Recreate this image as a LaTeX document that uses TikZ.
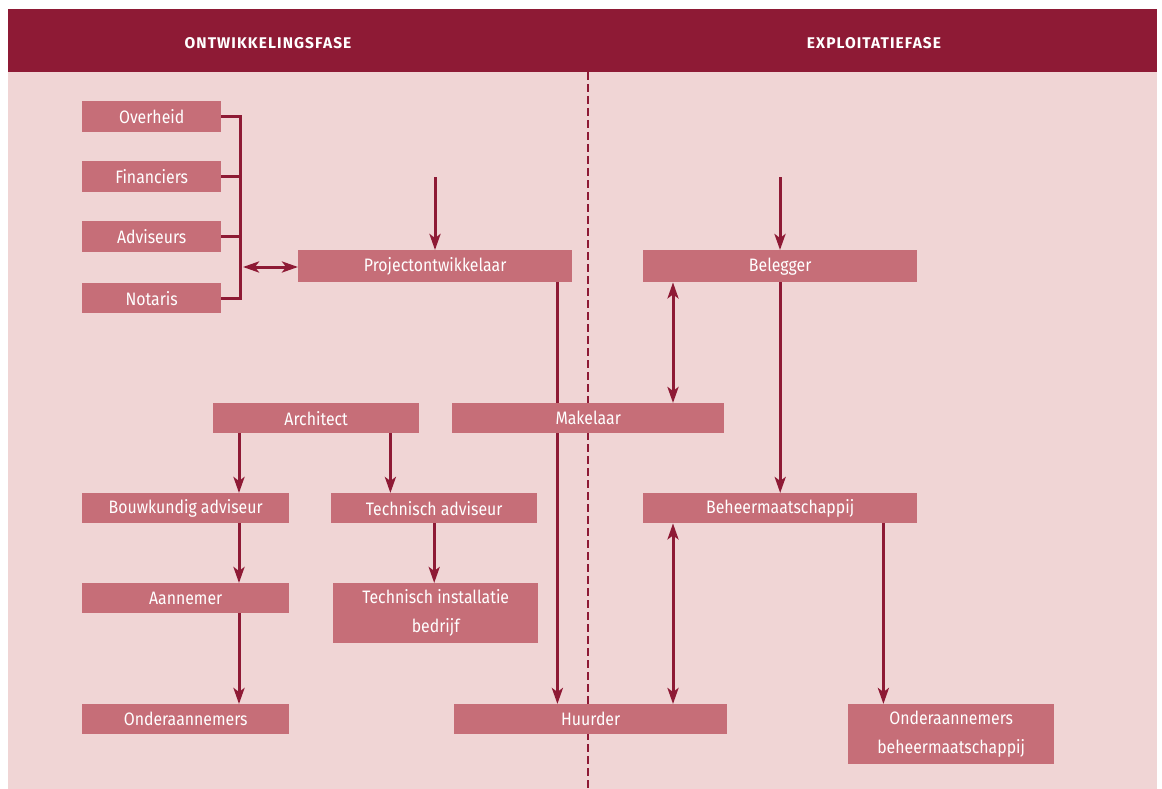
\documentclass[tikz,border=0pt]{standalone}
\usepackage{fontspec}
\setmainfont{Fira Sans}[FakeStretch=0.88]
\newfontfamily\phasefont{Fira Sans}[LetterSpace=7]
\usetikzlibrary{arrows.meta}
\definecolor{wine}{HTML}{8E1A35}
\definecolor{blush}{HTML}{F0D5D5}
\definecolor{rosebox}{HTML}{C66E78}
\pgfdeclarelayer{backdrop}
\pgfdeclarelayer{links}
\pgfsetlayers{backdrop,links,main}
\begin{document}
\begin{tikzpicture}[x=1pt,y=-1pt,
  box/.style={fill=rosebox, draw=none, text=white, anchor=north west,
    inner sep=0pt, align=center, font=\fontsize{18}{29}\selectfont},
  phase/.style={text=white, font=\phasefont\bfseries\fontsize{15.5}{17}\selectfont},
  link/.style={draw=wine, line width=3pt},
  tip/.tip={Stealth[length=16pt,width=11pt,inset=4pt]},
  arr/.style={link, -tip},
  darr/.style={link, tip-tip},
]
\useasboundingbox (0,0) rectangle (1162,789);

% backdrop and phase header
\begin{pgfonlayer}{backdrop}
\fill[blush] (8,72) rectangle (1157,789);
\fill[wine] (8,9) rectangle (1157,72);
% boundary between the two phases
\draw[link, line width=2.8pt, dash pattern=on 8pt off 4pt] (588,72) -- (588,789);
\end{pgfonlayer}
\node[phase] (hdev) at (268,43) {ONTWIKKELINGSFASE};
\node[phase] (hexp) at (874,43) {EXPLOITATIEFASE};

% parties
\node[box, minimum width=139pt, minimum height=31pt] (ov) at (82,101) {Overheid};
\node[box, minimum width=139pt, minimum height=31pt] (fi) at (82,161) {Financiers};
\node[box, minimum width=139pt, minimum height=31pt] (ad) at (82,221) {Adviseurs};
\node[box, minimum width=139pt, minimum height=30pt] (no) at (82,283) {Notaris};

\node[box, minimum width=274pt, minimum height=32pt] (po) at (298,250) {Projectontwikkelaar};
\node[box, minimum width=274pt, minimum height=32pt] (be) at (643,250) {Belegger};

\node[box, minimum width=206pt, minimum height=30pt] (ar) at (213,403) {Architect};
\node[box, minimum width=272pt, minimum height=30pt] (ma) at (452,403) {Makelaar};

\node[box, minimum width=207pt, minimum height=30pt] (bk) at (82,493) {Bouwkundig adviseur};
\node[box, minimum width=206pt, minimum height=30pt] (ta) at (331,493) {Technisch adviseur};
\node[box, minimum width=274pt, minimum height=30pt] (bm) at (643,493) {Beheermaatschappij};

\node[box, minimum width=207pt, minimum height=30pt] (an) at (82,583) {Aannemer};
\node[box, minimum width=205pt, minimum height=60pt] (ti) at (333,583) {Technisch installatie\\bedrijf};

\node[box, minimum width=207pt, minimum height=30pt] (oa) at (82,704) {Onderaannemers};
\node[box, minimum width=273pt, minimum height=30pt] (hu) at (454,704) {Huurder};
\node[box, minimum width=206pt, minimum height=60pt] (ob) at (848,704) {Onderaannemers\\beheermaatschappij};

\begin{pgfonlayer}{links}
% bracket joining the four advisers
\coordinate (brk) at (240,0);
\coordinate (hub) at (243,267);
\draw[link] (ov.east) -- (ov.east -| brk) -- (no.east -| brk) -- (no.east);
\draw[link] (fi.east) -- (fi.east -| brk);
\draw[link] (ad.east) -- (ad.east -| brk);
\draw[darr] (hub) -- (hub -| po.west);

% incoming arrows from above
\coordinate (pin) at (435,177);
\coordinate (bin) at (780,177);
\draw[arr] (pin) -- (pin |- po.north);
\draw[arr] (bin) -- (bin |- be.north);

% project developer down to the tenant, passing behind the broker
\draw[arr] ([xshift=-15pt]po.south east) -- ([xshift=-15pt]po.south east |- hu.north);

% investor side
\draw[darr] ([xshift=30pt]be.south west) -- ([xshift=30pt]be.south west |- ma.north);
\draw[arr] (be.south) -- (be.south |- bm.north);
\draw[darr] ([xshift=30pt]bm.south west) -- ([xshift=30pt]bm.south west |- hu.north);
\draw[arr] ([xshift=-34pt]bm.south east) -- ([xshift=-34pt]bm.south east |- ob.north);

% architect branch
\draw[arr] ([xshift=26pt]ar.south west) -- ([xshift=26pt]ar.south west |- bk.north);
\draw[arr] ([xshift=-29pt]ar.south east) -- ([xshift=-29pt]ar.south east |- ta.north);
\draw[arr] ([xshift=26pt]ar.south west |- bk.south) -- ([xshift=26pt]ar.south west |- an.north);
\draw[arr] (ta.south) -- (ta.south |- ti.north);
\draw[arr] ([xshift=26pt]ar.south west |- an.south) -- ([xshift=26pt]ar.south west |- oa.north);
\end{pgfonlayer}
\end{tikzpicture}
\end{document}
